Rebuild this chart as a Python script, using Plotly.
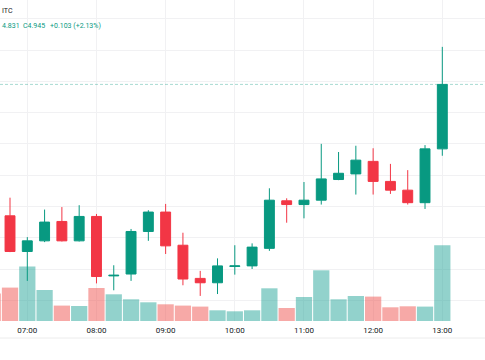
import plotly.graph_objects as go

DAY = "2024-01-01 "

# 15-minute candles
times = ["06:45", "07:00", "07:15", "07:30", "07:45", "08:00", "08:15", "08:30", "08:45",
         "09:00", "09:15", "09:30", "09:45", "10:00", "10:15", "10:30", "10:45", "11:00",
         "11:15", "11:30", "11:45", "12:00", "12:15", "12:30", "12:45", "13:00"]
opens  = [4.735, 4.678, 4.695, 4.726, 4.695, 4.734, 4.639, 4.642, 4.710, 4.741, 4.688, 4.635, 4.628,
          4.654, 4.655, 4.683, 4.759, 4.753, 4.760, 4.793, 4.802, 4.822, 4.790, 4.776, 4.756, 4.842]
highs  = [4.764, 4.701, 4.745, 4.749, 4.752, 4.738, 4.656, 4.714, 4.744, 4.754, 4.708, 4.647, 4.667,
          4.688, 4.691, 4.779, 4.763, 4.789, 4.850, 4.837, 4.847, 4.843, 4.818, 4.808, 4.848, 5.005]
lows   = [4.677, 4.631, 4.693, 4.694, 4.694, 4.627, 4.616, 4.631, 4.695, 4.674, 4.624, 4.607, 4.610,
          4.641, 4.650, 4.679, 4.724, 4.731, 4.753, 4.792, 4.769, 4.769, 4.770, 4.753, 4.746, 4.831]
closes = [4.678, 4.695, 4.725, 4.695, 4.734, 4.638, 4.640, 4.710, 4.741, 4.687, 4.634, 4.628, 4.655,
          4.655, 4.685, 4.760, 4.753, 4.760, 4.794, 4.803, 4.824, 4.790, 4.776, 4.756, 4.842, 4.945]

# volume (one earlier bar, 06:30, is partly visible at the left edge)
vol_times = ["06:30"] + times
volumes = [27400, 33400, 54400, 31000, 15400, 15000, 33000, 26700, 21700, 18700, 16700, 15400, 14400,
           10700, 9700, 10700, 32700, 13000, 24000, 50700, 21700, 25000, 24400, 13700, 14700, 14400, 75700]
vol_up = [False] + [c >= o for o, c in zip(opens, closes)]

tick_vals = ["07:00", "08:00", "09:00", "10:00", "11:00", "12:00", "13:00"]
tick_text = ["07:00", "08:00", "09:00", "10:00", "11:00", "12:00", "13:00"]

last_close = closes[-1]
legend_low = "4.831"
legend_close = "C4.945"
legend_change = "+0.103 (+2.13%)"
symbol_text = "ITC"

UP = "#089981"
DOWN = "#F23645"
UP_VOL = "rgba(38,166,154,0.5)"
DOWN_VOL = "rgba(239,83,80,0.5)"
GRID = "#f1f1f3"
FONT = "Roboto"

W, H = 485, 360
PLOT_H = 321

fig = go.Figure()

fig.add_trace(go.Bar(
    x=[DAY + t for t in vol_times], y=volumes,
    marker=dict(color=[UP_VOL if u else DOWN_VOL for u in vol_up], line=dict(width=0)),
    xaxis="x", yaxis="y", hoverinfo="skip",
))

fig.add_trace(go.Candlestick(
    x=[DAY + t for t in times], open=opens, high=highs, low=lows, close=closes,
    increasing=dict(fillcolor=UP, line=dict(color=UP, width=1)),
    decreasing=dict(fillcolor=DOWN, line=dict(color=DOWN, width=1)),
    whiskerwidth=0,
    xaxis="x", yaxis="y2",
))

p_top = 5.0 + 50 / 625.75
p_bot = 5.0 - (PLOT_H - 50) / 625.75

fig.update_layout(
    width=W, height=H,
    margin=dict(l=0, r=0, t=0, b=H - PLOT_H),
    paper_bgcolor="white", plot_bgcolor="white",
    showlegend=False,
    bargap=0.06,
    boxgap=0.18,
    font=dict(family=FONT, size=8, color="#131722"),
    xaxis=dict(
        type="date",
        range=[DAY + "06:36:19", DAY + "13:37:02"],
        rangeslider=dict(visible=False),
        tickvals=[DAY + t for t in tick_vals], ticktext=tick_text,
        showgrid=True, gridcolor=GRID, gridwidth=1,
        zeroline=False, showline=False, ticks="",
        ticklabelstandoff=3,
        tickfont=dict(size=8, color="#131722", family=FONT),
        fixedrange=True,
    ),
    yaxis=dict(
        range=[0, PLOT_H * 1000],
        showgrid=False, zeroline=False, showticklabels=False, showline=False,
        fixedrange=True,
    ),
    yaxis2=dict(
        overlaying="y", side="right",
        range=[p_bot, p_top],
        tick0=0, dtick=0.05,
        showgrid=True, gridcolor=GRID, gridwidth=1,
        zeroline=False, showticklabels=False, showline=False,
        fixedrange=True,
    ),
)

# last price line
fig.add_shape(type="line", xref="paper", x0=0, x1=1, yref="y2", y0=last_close, y1=last_close,
              line=dict(color="rgba(8,153,129,0.35)", width=1, dash="3px,2px"), layer="above")
# bottom border of time scale
yb = (PLOT_H - 338) / PLOT_H
fig.add_shape(type="line", xref="paper", x0=0, x1=1, yref="paper", y0=yb, y1=yb,
              line=dict(color="#ececec", width=1))

def px_x(x):
    return x / W

def px_y(y):
    return (PLOT_H - y) / PLOT_H

fig.add_annotation(text=symbol_text, x=px_x(0), y=px_y(11.5), xref="paper", yref="paper",
                   xanchor="left", yanchor="middle", showarrow=False,
                   font=dict(size=7, color="#131722", family=FONT))
for txt, x in [(legend_low, 0), (legend_close, 20.7), (legend_change, 48.3)]:
    fig.add_annotation(text=txt, x=px_x(x), y=px_y(26.5), xref="paper", yref="paper",
                       xanchor="left", yanchor="middle", showarrow=False,
                       font=dict(size=7, color=UP, family=FONT))

fig.write_html("out.html", config={"displayModeBar": False},
               post_script="document.body.style.margin='0';document.body.style.padding='0';")
